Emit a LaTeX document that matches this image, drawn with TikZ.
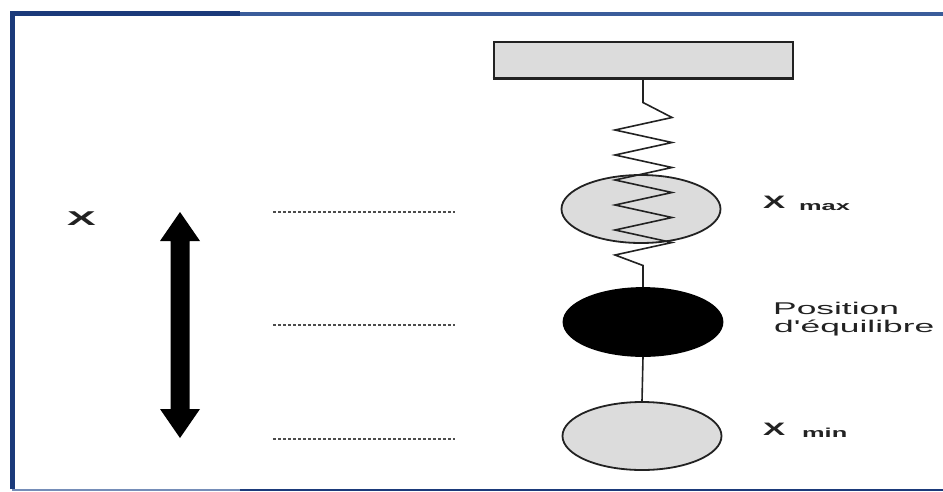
\documentclass[tikz,border=0pt]{standalone}
\usepackage{fontspec}
\setmainfont{Liberation Sans}
\usetikzlibrary{shapes.geometric}
\definecolor{navy}{HTML}{1B3A7A}
\definecolor{navylight}{HTML}{3A5C9A}
\definecolor{massgray}{HTML}{DCDCDC}
\definecolor{inkgray}{HTML}{222222}
\begin{document}
\begin{tikzpicture}[x=1pt,y=-1pt,
  mass/.style={ellipse,draw=inkgray,line width=1.8pt,minimum width=159pt,minimum height=68pt,inner sep=0pt},
  guide/.style={draw=gray!60!black,line width=1.8pt,dash pattern=on 3pt off 2pt},
  springline/.style={draw=inkgray,line width=1.6pt,line join=miter},
  lbl/.style={inner sep=0pt,anchor=base west,text=inkgray}]
\useasboundingbox (0,0) rectangle (943,491);
\fill[white] (0,0) rectangle (943,491);
% frame
\draw[navy,line width=5pt] (12,489) -- (12,13.5) -- (240,13.5);
\draw[navylight,line width=4pt] (240,13.5) -- (943,13.5);
\draw[navylight!70,line width=2.5pt] (12,489.8) -- (240,489.8);
\draw[navy,line width=2.5pt] (240,489.8) -- (943,489.8);
% support
\node[draw=inkgray,fill=massgray,line width=2pt,minimum width=299pt,minimum height=36pt,inner sep=0pt] (wall) at (643,59.5) {};
\draw[inkgray,line width=3.5pt] (wall.south west) -- (wall.south east);
% masses
\node[mass,fill=massgray] (mmax) at (641,209) {};
\node[mass,fill=black,draw=black] (meq) at (643,322) {};
\node[mass,fill=massgray] (mmin) at (642,436) {};
% spring
\draw[springline] (wall.south) -- ++(0,24) -- ++(29,15)
  -- ++(-57,12.5) -- ++(57,12.5) -- ++(-57,12.5) -- ++(57,12.5)
  -- ++(-57,12.5) -- ++(57,12.5) -- ++(-57,12.5) -- ++(57,12.5)
  -- ++(-57,12.5) -- ++(57,12.5) -- ++(-57,12.5) -- ++(28,10.5)
  -- (meq.north);
\draw[springline] (meq.south) -- (mmin.north);
% guides
\draw[guide] (273,212) -- (455,212);
\draw[guide] (273,325) -- (455,325);
\draw[guide] (273,439) -- (455,439);
% double arrow
\fill[black] (180,212) -- (200,241) -- (189.5,241) -- (189.5,409) -- (200,409) -- (180,438)
  -- (160,409) -- (170.5,409) -- (170.5,241) -- (160,241) -- cycle;
% labels
\node[lbl] (xlab) at (67,225) {\fontsize{20}{20}\selectfont\bfseries\scalebox{2.15}[1]{X}};
\node[lbl] (xmax) at (763,208) {\fontsize{18}{18}\selectfont\bfseries\scalebox{1.85}[1]{X}};
\node[lbl] (xmaxs) at (799,210) {\fontsize{13}{13}\selectfont\bfseries\scalebox{1.95}[1]{max}};
\node[lbl] (xmin) at (763,435) {\fontsize{18}{18}\selectfont\bfseries\scalebox{1.85}[1]{X}};
\node[lbl] (xmins) at (802,437) {\fontsize{13}{13}\selectfont\bfseries\scalebox{1.95}[1]{min}};
\node[lbl] (pos1) at (773,314) {\fontsize{17}{17}\selectfont\scalebox{2.08}[1]{Position}};
\node[lbl] (pos2) at (774,332) {\fontsize{17}{17}\selectfont\scalebox{2.08}[1]{d\textquotesingle équilibre}};
\end{tikzpicture}
\end{document}
